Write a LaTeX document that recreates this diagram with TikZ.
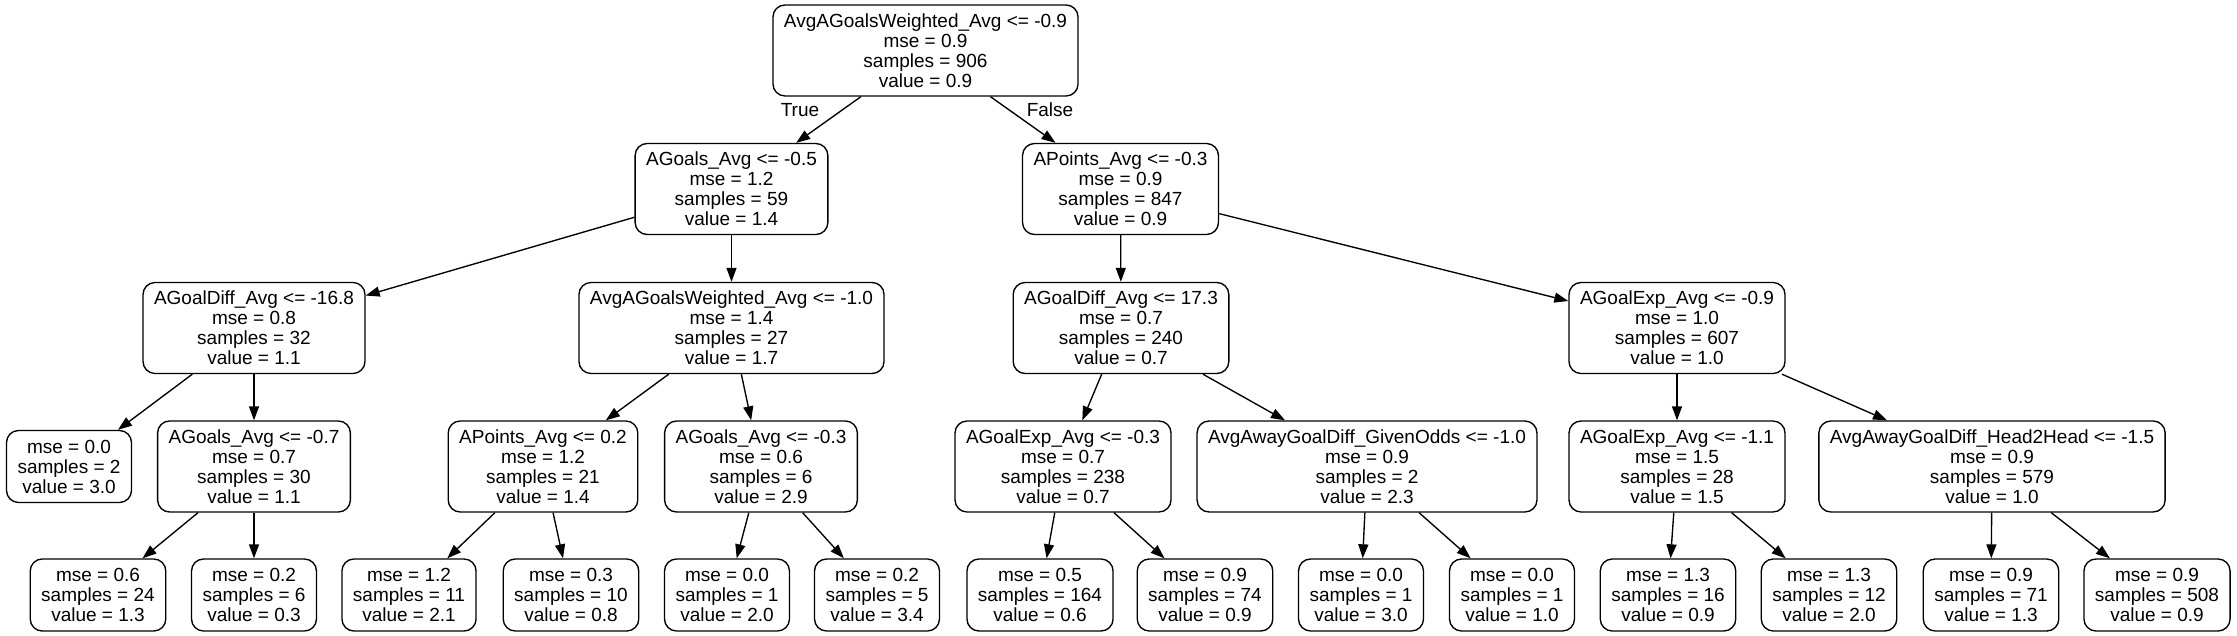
\documentclass[tikz,border=0pt]{standalone}
\usepackage{fontspec}
\setmainfont{Liberation Sans}
\usetikzlibrary{arrows.meta}
\begin{document}
\begin{tikzpicture}[x=1pt,y=-1pt,
  every node/.style={font=\fontsize{19}{20}\selectfont},
  split/.style={draw, rounded corners=12pt, line width=1.36pt, inner xsep=11pt, inner ysep=0pt, minimum height=91pt, align=center},
  leaf/.style={split, minimum height=72pt},
  lbl/.style={inner sep=0pt},
  edge/.style={line width=1.36pt, -{Triangle[length=14pt,width=10pt]}}]
\useasboundingbox (0,0) rectangle (2237,636);
% level 0
\node[split] (r) at (925.5,50.5) {AvgAGoalsWeighted\_Avg <= -0.9\\mse = 0.9\\samples = 906\\value = 0.9};
% level 1
\node[split] (a) at (731.5,189) {AGoals\_Avg <= -0.5\\mse = 1.2\\samples = 59\\value = 1.4};
\node[split] (b) at (1120.5,189) {APoints\_Avg <= -0.3\\mse = 0.9\\samples = 847\\value = 0.9};
% level 2
\node[split] (aa) at (254,328) {AGoalDiff\_Avg <= -16.8\\mse = 0.8\\samples = 32\\value = 1.1};
\node[split] (ab) at (731.5,328) {AvgAGoalsWeighted\_Avg <= -1.0\\mse = 1.4\\samples = 27\\value = 1.7};
\node[split] (ba) at (1121,328) {AGoalDiff\_Avg <= 17.3\\mse = 0.7\\samples = 240\\value = 0.7};
\node[split] (bb) at (1677,328) {AGoalExp\_Avg <= -0.9\\mse = 1.0\\samples = 607\\value = 1.0};
% level 3
\node[leaf] (aaa) at (69,466.5) {mse = 0.0\\samples = 2\\value = 3.0};
\node[split] (aab) at (254,466.5) {AGoals\_Avg <= -0.7\\mse = 0.7\\samples = 30\\value = 1.1};
\node[split] (aba) at (543,466.5) {APoints\_Avg <= 0.2\\mse = 1.2\\samples = 21\\value = 1.4};
\node[split] (abb) at (761,466.5) {AGoals\_Avg <= -0.3\\mse = 0.6\\samples = 6\\value = 2.9};
\node[split] (baa) at (1063,466.5) {AGoalExp\_Avg <= -0.3\\mse = 0.7\\samples = 238\\value = 0.7};
\node[split] (bab) at (1367,466.5) {AvgAwayGoalDiff\_GivenOdds <= -1.0\\mse = 0.9\\samples = 2\\value = 2.3};
\node[split] (bba) at (1677,466.5) {AGoalExp\_Avg <= -1.1\\mse = 1.5\\samples = 28\\value = 1.5};
\node[split] (bbb) at (1992,466.5) {AvgAwayGoalDiff\_Head2Head <= -1.5\\mse = 0.9\\samples = 579\\value = 1.0};
% level 4
\node[leaf] (l1) at (98,595) {mse = 0.6\\samples = 24\\value = 1.3};
\node[leaf] (l2) at (254,595) {mse = 0.2\\samples = 6\\value = 0.3};
\node[leaf] (l3) at (409,595) {mse = 1.2\\samples = 11\\value = 2.1};
\node[leaf] (l4) at (571,595) {mse = 0.3\\samples = 10\\value = 0.8};
\node[leaf] (l5) at (727,595) {mse = 0.0\\samples = 1\\value = 2.0};
\node[leaf] (l6) at (877,595) {mse = 0.2\\samples = 5\\value = 3.4};
\node[leaf] (l7) at (1040,595) {mse = 0.5\\samples = 164\\value = 0.6};
\node[leaf] (l8) at (1205,595) {mse = 0.9\\samples = 74\\value = 0.9};
\node[leaf] (l9) at (1361,595) {mse = 0.0\\samples = 1\\value = 3.0};
\node[leaf] (l10) at (1512,595) {mse = 0.0\\samples = 1\\value = 1.0};
\node[leaf] (l11) at (1668,595) {mse = 1.3\\samples = 16\\value = 0.9};
\node[leaf] (l12) at (1829,595) {mse = 1.3\\samples = 12\\value = 2.0};
\node[leaf] (l13) at (1991,595) {mse = 0.9\\samples = 71\\value = 1.3};
\node[leaf] (l14) at (2157,595) {mse = 0.9\\samples = 508\\value = 0.9};
% edges
\draw[edge] (r) -- (a);
\draw[edge] (r) -- (b);
\node[lbl] (tl) at (800,110) {True};
\node[lbl] (fl) at (1050,110) {False};
\draw[edge] (a) -- (aa);
\draw[edge] (a) -- (ab);
\draw[edge] (b) -- (ba);
\draw[edge] (b) -- (bb);
\draw[edge] (aa) -- (aaa);
\draw[edge] (aa) -- (aab);
\draw[edge] (ab) -- (aba);
\draw[edge] (ab) -- (abb);
\draw[edge] (ba) -- (baa);
\draw[edge] (ba) -- (bab);
\draw[edge] (bb) -- (bba);
\draw[edge] (bb) -- (bbb);
\draw[edge] (aab) -- (l1);
\draw[edge] (aab) -- (l2);
\draw[edge] (aba) -- (l3);
\draw[edge] (aba) -- (l4);
\draw[edge] (abb) -- (l5);
\draw[edge] (abb) -- (l6);
\draw[edge] (baa) -- (l7);
\draw[edge] (baa) -- (l8);
\draw[edge] (bab) -- (l9);
\draw[edge] (bab) -- (l10);
\draw[edge] (bba) -- (l11);
\draw[edge] (bba) -- (l12);
\draw[edge] (bbb) -- (l13);
\draw[edge] (bbb) -- (l14);
\end{tikzpicture}
\end{document}
